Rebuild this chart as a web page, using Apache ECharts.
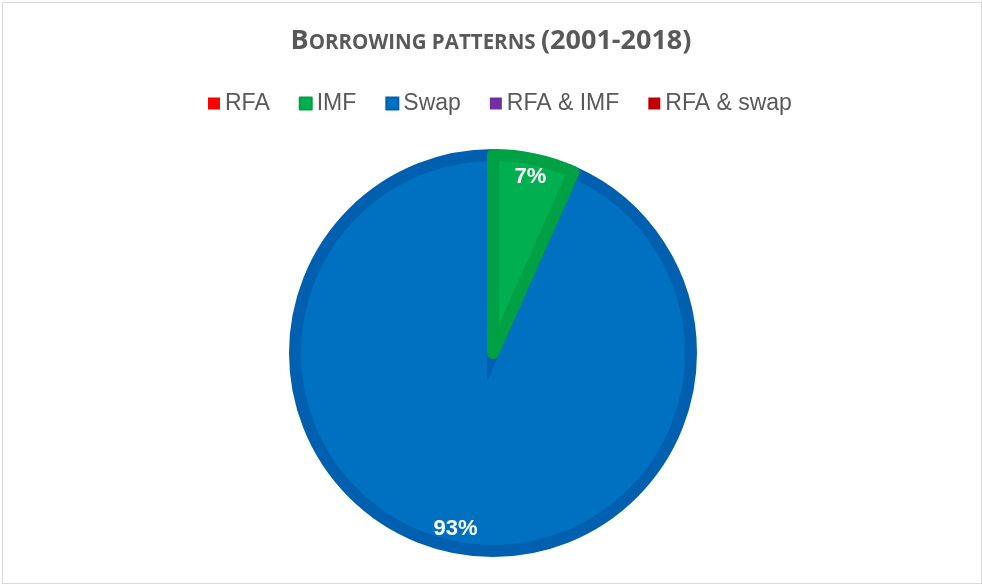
<!DOCTYPE html>
<html>
<head>
<meta charset="utf-8">
<title>Borrowing patterns</title>
<script src="https://cdn.jsdelivr.net/npm/echarts@6/dist/echarts.min.js"></script>
<style>
  html, body { margin: 0; padding: 0; background: #fff; }
  #frame { position: absolute; left: 2px; top: 2px; width: 978px; height: 580px; border: 1px solid #d9d9d9; }
  #main { position: absolute; left: 0; top: 0; width: 982px; height: 586px; }
</style>
</head>
<body>
<div id="frame"></div>
<div id="main"></div>
<script>
// borrowing type counts (2001-2018)
let categories = ['RFA', 'IMF', 'Swap', 'RFA & IMF', 'RFA & swap']
let values = [0, 1, 14, 0, 0]
let colors = ['#ff0000', '#00b050', '#0070c0', '#7030a0', '#c00000']
let edgeColors = ['#e00000', '#00a044', '#005faf', '#60289a', '#a80000']

let biggest = values.indexOf(Math.max(...values))

// drawn counter-clockwise in reverse order, so the small slices are painted
// last and keep their own dark edge (same layout as clockwise in legend order)
let pieData = categories.map((name, i) => ({
  name: name,
  value: values[i],
  itemStyle: {
    color: colors[i],
    borderColor: edgeColors[i],
    borderWidth: values[i] > 0 ? 12 : 0,
    borderJoin: i === biggest ? 'miter' : 'round'
  }
})).reverse()

let labelData = categories.map((name, i) => ({ name: name, value: values[i] }))

let chart = echarts.init(document.getElementById('main'))
chart.setOption({
  animation: false,
  title: {
    text: '{a|B}{b|ORROWING PATTERNS }{a|(2001-2018)}',
    left: 'center',
    top: 23,
    textStyle: {
      rich: {
        a: { fontFamily: 'Open Sans', fontWeight: 'bold', fontSize: 27, color: '#595959' },
        b: { fontFamily: 'Open Sans', fontWeight: 'bold', fontSize: 20.5, color: '#595959', padding: [4, 0, 0, 0] }
      }
    }
  },
  legend: {
    data: categories,
    top: 87,
    left: 203,
    icon: 'rect',
    itemWidth: 12,
    itemHeight: 12,
    itemGap: 29,
    textStyle: { fontFamily: 'Liberation Sans', fontSize: 23, color: '#595959' }
  },
  series: [
    {
      name: 'Borrowing',
      type: 'pie',
      center: [493, 353],
      radius: [0, 198],
      startAngle: 90,
      clockwise: false,
      silent: true,
      itemStyle: { borderMiterLimit: 20 },
      label: { show: false },
      labelLine: { show: false },
      data: pieData
    },
    {
      name: 'labels',
      type: 'pie',
      center: [493, 353],
      radius: [0, 354],
      startAngle: 90,
      silent: true,
      itemStyle: { color: 'transparent' },
      labelLine: { show: false },
      label: {
        show: true,
        position: 'inside',
        color: '#fff',
        fontFamily: 'Liberation Sans',
        fontWeight: 'bold',
        fontSize: 22,
        formatter: function (p) {
          return p.value > 0 ? Math.round(p.percent) + '%' : ''
        }
      },
      data: labelData
    }
  ]
})
</script>
</body>
</html>
